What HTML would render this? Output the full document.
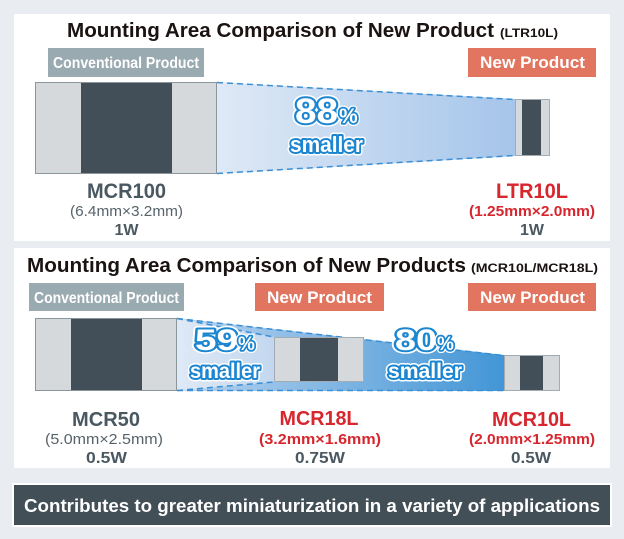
<!DOCTYPE html>
<html><head><meta charset="utf-8"><style>
html,body{margin:0;padding:0;background:#e9edf1;}
svg{display:block;}
text{font-family:"Liberation Sans",Arial,sans-serif;}
</style></head><body>
<svg width="624" height="539" viewBox="0 0 624 539" xmlns="http://www.w3.org/2000/svg">
<defs>
<linearGradient id="g1" x1="217" y1="0" x2="515" y2="0" gradientUnits="userSpaceOnUse">
<stop offset="0" stop-color="#dfe9f6"/><stop offset="1" stop-color="#a5c5ea"/>
</linearGradient>
<linearGradient id="g2" x1="177" y1="0" x2="504" y2="0" gradientUnits="userSpaceOnUse">
<stop offset="0" stop-color="#b9d3ef"/><stop offset="1" stop-color="#4396d6"/>
</linearGradient>
<linearGradient id="g3" x1="177" y1="0" x2="274" y2="0" gradientUnits="userSpaceOnUse">
<stop offset="0" stop-color="#dfe9f6"/><stop offset="1" stop-color="#c2d7ef"/>
</linearGradient>
</defs>
<rect width="624" height="539" fill="#e9edf1"/>
<!-- top panel -->
<rect x="14" y="14" width="596" height="227" fill="#ffffff"/>
<text x="67" y="37" font-size="20.5" font-weight="bold" fill="#1a1311" textLength="427" lengthAdjust="spacingAndGlyphs">Mounting Area Comparison of New Product</text>
<text x="500" y="37" font-size="11.5" font-weight="bold" fill="#1a1311" textLength="58" lengthAdjust="spacingAndGlyphs">(LTR10L)</text>
<rect x="48" y="48" width="156" height="29" fill="#9aaab1"/>
<text x="53" y="68" font-size="16" font-weight="bold" fill="#ffffff" textLength="146" lengthAdjust="spacingAndGlyphs">Conventional Product</text>
<rect x="468" y="48" width="128" height="29" fill="#e27560"/>
<text x="480" y="68" font-size="16.5" font-weight="bold" fill="#ffffff" textLength="105" lengthAdjust="spacingAndGlyphs">New Product</text>
<!-- trapezoid top -->
<polygon points="217,82 515,99 515,156 217,174" fill="url(#g1)"/>
<line x1="217" y1="82.5" x2="515" y2="99.5" stroke="#3a8fd5" stroke-width="1.5" stroke-dasharray="6,4"/>
<line x1="217" y1="173.5" x2="515" y2="155.5" stroke="#3a8fd5" stroke-width="1.5" stroke-dasharray="6,4"/>
<!-- MCR100 -->
<rect x="35.5" y="82.5" width="181" height="91" fill="#d5d9dc" stroke="#8a959c" stroke-width="1"/>
<rect x="81" y="83" width="91" height="90" fill="#434f58"/>
<!-- LTR10L -->
<rect x="515.5" y="99.5" width="34" height="56" fill="#d5d9dc" stroke="#a2acb2" stroke-width="1"/>
<rect x="522" y="100" width="19" height="55" fill="#434f58"/>
<!-- 88% -->
<g font-weight="bold">
<text x="295" y="123" font-size="35" fill="#fff" stroke="#fff" stroke-width="7" stroke-linejoin="round" textLength="43" lengthAdjust="spacingAndGlyphs">88</text>
<text x="295" y="123" font-size="35" fill="#fff" stroke="#1d86d1" stroke-width="4" stroke-linejoin="round" paint-order="stroke" textLength="43" lengthAdjust="spacingAndGlyphs">88</text>
<text x="339" y="123" font-size="21" fill="#fff" stroke="#fff" stroke-width="6" stroke-linejoin="round">%</text>
<text x="339" y="123" font-size="21" fill="#fff" stroke="#1d86d1" stroke-width="3.5" stroke-linejoin="round" paint-order="stroke">%</text>
<text x="290" y="152" font-size="22" fill="#fff" stroke="#fff" stroke-width="7" stroke-linejoin="round" textLength="73" lengthAdjust="spacingAndGlyphs">smaller</text>
<text x="290" y="152" font-size="22" fill="#fff" stroke="#1d86d1" stroke-width="4" stroke-linejoin="round" paint-order="stroke" textLength="73" lengthAdjust="spacingAndGlyphs">smaller</text>
</g>
<!-- labels top -->
<text x="126.5" y="198" font-size="21" font-weight="bold" fill="#4a5861" text-anchor="middle" textLength="79" lengthAdjust="spacingAndGlyphs">MCR100</text>
<text x="126.5" y="216" font-size="15" fill="#56636b" text-anchor="middle" textLength="113" lengthAdjust="spacingAndGlyphs">(6.4mm×3.2mm)</text>
<text x="126.5" y="235" font-size="16" font-weight="bold" fill="#4a5861" text-anchor="middle">1W</text>
<text x="532" y="198" font-size="21" font-weight="bold" fill="#d7262d" text-anchor="middle" textLength="72" lengthAdjust="spacingAndGlyphs">LTR10L</text>
<text x="532" y="216" font-size="14.5" font-weight="bold" fill="#d7262d" text-anchor="middle" textLength="126" lengthAdjust="spacingAndGlyphs">(1.25mm×2.0mm)</text>
<text x="532" y="235" font-size="16" font-weight="bold" fill="#4a5861" text-anchor="middle">1W</text>

<!-- bottom panel -->
<rect x="14" y="248" width="596" height="220" fill="#ffffff"/>
<text x="27" y="272" font-size="20.5" font-weight="bold" fill="#1a1311" textLength="439" lengthAdjust="spacingAndGlyphs">Mounting Area Comparison of New Products</text>
<text x="471" y="272" font-size="11.5" font-weight="bold" fill="#1a1311" textLength="127" lengthAdjust="spacingAndGlyphs">(MCR10L/MCR18L)</text>
<rect x="29" y="283" width="155" height="28" fill="#9aaab1"/>
<text x="34" y="303" font-size="16" font-weight="bold" fill="#ffffff" textLength="145" lengthAdjust="spacingAndGlyphs">Conventional Product</text>
<rect x="255" y="283" width="129" height="28" fill="#e27560"/>
<text x="267" y="303" font-size="16.5" font-weight="bold" fill="#ffffff" textLength="105" lengthAdjust="spacingAndGlyphs">New Product</text>
<rect x="468" y="283" width="128" height="28" fill="#e27560"/>
<text x="480" y="303" font-size="16.5" font-weight="bold" fill="#ffffff" textLength="105" lengthAdjust="spacingAndGlyphs">New Product</text>
<!-- big trapezoid -->
<polygon points="177,318 504,355 504,391 177,391" fill="url(#g2)"/>
<line x1="177" y1="318.5" x2="504" y2="355.5" stroke="#3a8fd5" stroke-width="1.5" stroke-dasharray="6,4"/>
<line x1="177" y1="390.5" x2="504" y2="390.5" stroke="#3a8fd5" stroke-width="1.5" stroke-dasharray="6,4"/>
<!-- small trapezoid -->
<polygon points="177,318 274,337 274,382 177,391" fill="url(#g3)"/>
<line x1="177" y1="318.5" x2="274" y2="337" stroke="#3a8fd5" stroke-width="1.5" stroke-dasharray="6,4"/>
<line x1="177" y1="390.5" x2="274" y2="382" stroke="#3a8fd5" stroke-width="1.5" stroke-dasharray="6,4"/>
<!-- MCR50 -->
<rect x="35.5" y="318.5" width="141" height="72" fill="#d5d9dc" stroke="#8a959c" stroke-width="1"/>
<rect x="71" y="319" width="71" height="71" fill="#434f58"/>
<!-- MCR18L -->
<rect x="274.5" y="337.5" width="89" height="44" fill="#d5d9dc" stroke="#a2acb2" stroke-width="1"/>
<rect x="300" y="338" width="38" height="43" fill="#434f58"/>
<!-- MCR10L -->
<rect x="504.5" y="355.5" width="55" height="35" fill="#d5d9dc" stroke="#a2acb2" stroke-width="1"/>
<rect x="520" y="356" width="23" height="34" fill="#434f58"/>
<!-- 59% -->
<g font-weight="bold">
<text x="195" y="350" font-size="30" fill="#fff" stroke="#fff" stroke-width="7" stroke-linejoin="round" textLength="43" lengthAdjust="spacingAndGlyphs">59</text>
<text x="195" y="350" font-size="30" fill="#fff" stroke="#1d86d1" stroke-width="4" stroke-linejoin="round" paint-order="stroke" textLength="43" lengthAdjust="spacingAndGlyphs">59</text>
<text x="238" y="350" font-size="19" fill="#fff" stroke="#fff" stroke-width="6" stroke-linejoin="round">%</text>
<text x="238" y="350" font-size="19" fill="#fff" stroke="#1d86d1" stroke-width="3.5" stroke-linejoin="round" paint-order="stroke">%</text>
<text x="190" y="378" font-size="21" fill="#fff" stroke="#fff" stroke-width="7" stroke-linejoin="round" textLength="70" lengthAdjust="spacingAndGlyphs">smaller</text>
<text x="190" y="378" font-size="21" fill="#fff" stroke="#1d86d1" stroke-width="4" stroke-linejoin="round" paint-order="stroke" textLength="70" lengthAdjust="spacingAndGlyphs">smaller</text>
<!-- 80% -->
<text x="395" y="350" font-size="30" fill="#fff" stroke="#fff" stroke-width="7" stroke-linejoin="round" textLength="42" lengthAdjust="spacingAndGlyphs">80</text>
<text x="395" y="350" font-size="30" fill="#fff" stroke="#1d86d1" stroke-width="4" stroke-linejoin="round" paint-order="stroke" textLength="42" lengthAdjust="spacingAndGlyphs">80</text>
<text x="437" y="350" font-size="19" fill="#fff" stroke="#fff" stroke-width="6" stroke-linejoin="round">%</text>
<text x="437" y="350" font-size="19" fill="#fff" stroke="#1d86d1" stroke-width="3.5" stroke-linejoin="round" paint-order="stroke">%</text>
<text x="388" y="378" font-size="21" fill="#fff" stroke="#fff" stroke-width="7" stroke-linejoin="round" textLength="74" lengthAdjust="spacingAndGlyphs">smaller</text>
<text x="388" y="378" font-size="21" fill="#fff" stroke="#1d86d1" stroke-width="4" stroke-linejoin="round" paint-order="stroke" textLength="74" lengthAdjust="spacingAndGlyphs">smaller</text>
</g>
<!-- labels bottom -->
<text x="106" y="426" font-size="20" font-weight="bold" fill="#4a5861" text-anchor="middle" textLength="68" lengthAdjust="spacingAndGlyphs">MCR50</text>
<text x="104" y="444" font-size="15" fill="#56636b" text-anchor="middle" textLength="118" lengthAdjust="spacingAndGlyphs">(5.0mm×2.5mm)</text>
<text x="106.5" y="463" font-size="16" font-weight="bold" fill="#4a5861" text-anchor="middle" textLength="41" lengthAdjust="spacingAndGlyphs">0.5W</text>
<text x="319" y="425" font-size="20" font-weight="bold" fill="#d7262d" text-anchor="middle" textLength="79" lengthAdjust="spacingAndGlyphs">MCR18L</text>
<text x="320" y="444" font-size="14.5" font-weight="bold" fill="#d7262d" text-anchor="middle" textLength="122" lengthAdjust="spacingAndGlyphs">(3.2mm×1.6mm)</text>
<text x="320" y="463" font-size="16" font-weight="bold" fill="#4a5861" text-anchor="middle" textLength="50" lengthAdjust="spacingAndGlyphs">0.75W</text>
<text x="531.5" y="426" font-size="20" font-weight="bold" fill="#d7262d" text-anchor="middle" textLength="79" lengthAdjust="spacingAndGlyphs">MCR10L</text>
<text x="532" y="444" font-size="14.5" font-weight="bold" fill="#d7262d" text-anchor="middle" textLength="126" lengthAdjust="spacingAndGlyphs">(2.0mm×1.25mm)</text>
<text x="531" y="463" font-size="16" font-weight="bold" fill="#4a5861" text-anchor="middle" textLength="40" lengthAdjust="spacingAndGlyphs">0.5W</text>

<!-- bottom bar -->
<rect x="12" y="483" width="600" height="44" fill="#ffffff"/>
<rect x="14" y="485" width="596" height="40" fill="#424f57"/>
<text x="24" y="512" font-size="18" font-weight="bold" fill="#ffffff" textLength="576" lengthAdjust="spacingAndGlyphs">Contributes to greater miniaturization in a variety of applications</text>
</svg>
</body></html>
